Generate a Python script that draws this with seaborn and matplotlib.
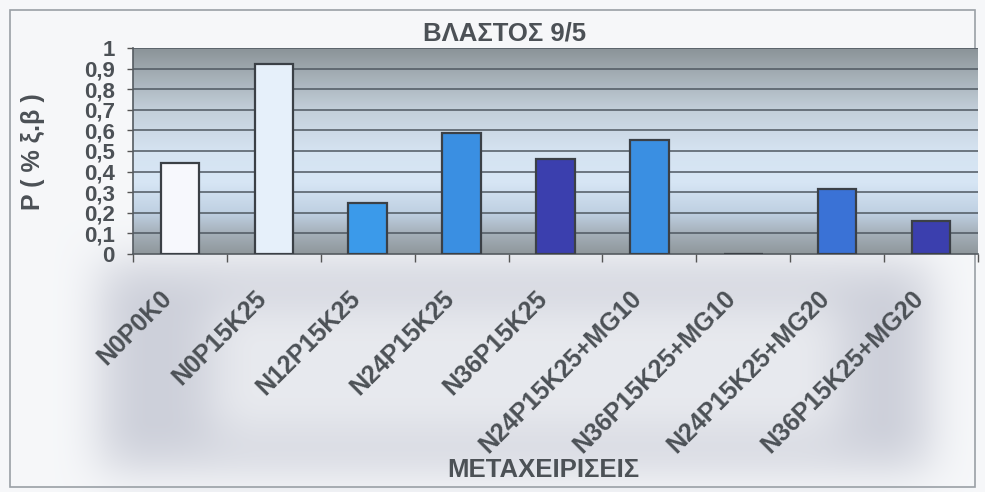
import numpy as np
import pandas as pd
import seaborn as sns
import matplotlib

matplotlib.use('Agg')
import matplotlib.pyplot as plt
import matplotlib.transforms as mtransforms
from matplotlib.colors import LinearSegmentedColormap

# data
treatments = ["N0P0K0", "N0P15K25", "N12P15K25", "N24P15K25", "N36P15K25",
              "N24P15K25+MG10", "N36P15K25+MG10", "N24P15K25+MG20", "N36P15K25+MG20"]
p_values = [0.44, 0.92, 0.25, 0.585, 0.46, 0.555, 0.0, 0.315, 0.158]
bar_colors = ["#f7f8fd", "#e6f0fa", "#3b9aea", "#3a8fe2", "#3b3fae",
              "#3a8fe2", "#3a70d8", "#3a72d6", "#3b3fae"]
y_ticks = [0, 0.1, 0.2, 0.3, 0.4, 0.5, 0.6, 0.7, 0.8, 0.9, 1.0]
y_tick_labels = ["0", "0,1", "0,2", "0,3", "0,4", "0,5", "0,6", "0,7", "0,8", "0,9", "1"]

df = pd.DataFrame({"treatment": treatments, "P": p_values})

sns.set_theme(style="white")
plt.rcParams['font.family'] = ['Liberation Sans', 'DejaVu Sans']
plt.rcParams['font.weight'] = 'bold'
txt_col = "#4c5156"

fig = plt.figure(figsize=(9.85, 4.92), dpi=100)
fig.patch.set_facecolor("#f6f7f9")

# blurred shadow frame behind the axis labels
H, W = 492, 985
yy, xx = np.mgrid[0:H, 0:W]
outer = (xx > 100) & (xx < 930) & (yy > 262) & (yy < 470)
inner = (xx > 210) & (xx < 840) & (yy > 300) & (yy < 438)
ring = (outer & ~inner).astype(float) * 0.85 + inner * 0.3
k = np.ones(51) / 51
for _ in range(2):
    ring = np.apply_along_axis(lambda r: np.convolve(r, k, mode="same"), 1, ring)
    ring = np.apply_along_axis(lambda c: np.convolve(c, k, mode="same"), 0, ring)
shade = np.array([0.55, 0.57, 0.66])
base = np.array([0.965, 0.97, 0.978])
img = base[None, None, :] * (1 - 0.45 * ring[..., None]) + shade[None, None, :] * 0.45 * ring[..., None]
bg = fig.add_axes([0, 0, 1, 1], zorder=-5)
bg.imshow(img, extent=[0, 1, 0, 1], aspect="auto")
bg.add_patch(plt.Rectangle((10 / W, 1 - 487 / H), 965 / W, 477 / H, fill=False,
                           edgecolor="#9aa0a6", linewidth=1.2))
bg.axis("off")

ax = fig.add_axes([133 / W, 1 - 254 / H, 845 / W, 206 / H])

# plot area gradient: gray - light blue - gray
cmap = LinearSegmentedColormap.from_list("bgrad", [
    (0.0, "#8b9398"), (0.12, "#a2acb3"), (0.3, "#c3cfda"), (0.5, "#d5e3f1"),
    (0.65, "#d7e6f5"), (0.8, "#bfd0e2"), (0.9, "#a5b0b9"), (1.0, "#8f979c")])
grad = np.linspace(0, 1, 256)[:, None]
ax.imshow(grad, extent=[0, 1, 0, 1], transform=ax.transAxes, cmap=cmap,
          aspect="auto", zorder=0)

for t in y_ticks[1:]:
    ax.axhline(t, color="#4f5861", linewidth=1.1, zorder=1)

sns.barplot(data=df, x="treatment", y="P", hue="treatment", palette=bar_colors,
            legend=False, width=0.41, edgecolor="#3b4046", linewidth=1.6,
            saturation=1, ax=ax, zorder=3)

ax.set_xlim(-0.5, len(treatments) - 0.5)
ax.set_ylim(0, 1)
ax.set_yticks(y_ticks)
ax.set_yticklabels(y_tick_labels, fontsize=16, fontweight="bold", color=txt_col)
ax.set_xticks(range(len(treatments)))
ax.set_xticklabels(treatments, rotation=45, ha="right", va="top",
                   rotation_mode="anchor", fontsize=18, fontweight="bold", color=txt_col)
ax.tick_params(axis="x", which="major", length=0, pad=23)
# labels sit a bit left of the bar centres
shift = mtransforms.ScaledTranslation(-0.2, 0, fig.dpi_scale_trans)
for lab in ax.get_xticklabels():
    lab.set_transform(lab.get_transform() + shift)
ax.set_xticks(np.arange(-0.5, len(treatments), 1), minor=True)
ax.tick_params(axis="x", which="minor", length=6, width=1, color="#555", direction="out")
ax.tick_params(axis="y", length=4, width=1, color="#555", pad=9, direction="out")
ax.xaxis.set_ticks_position("bottom")
ax.yaxis.set_ticks_position("left")

for side in ["top", "right"]:
    ax.spines[side].set_visible(False)
for side in ["left", "bottom"]:
    ax.spines[side].set_color("#555b61")
    ax.spines[side].set_linewidth(1.2)

ax.set_xlabel("")
ax.set_ylabel("")
fig.text(505 / W, 1 - 33 / H, "ΒΛΑΣΤΟΣ 9/5", ha="center", va="center",
         fontsize=18.5, fontweight="bold", color=txt_col)
fig.text(33 / W, 1 - 152 / H, "P ( % ξ.β )", ha="center", va="center", rotation=90,
         fontsize=18, fontweight="bold", color=txt_col)
fig.text(543 / W, 1 - 470 / H, "ΜΕΤΑΧΕΙΡΙΣΕΙΣ", ha="center", va="center",
         fontsize=18.5, fontweight="bold", color=txt_col)

fig.savefig("out.png", dpi=100, facecolor=fig.get_facecolor())
